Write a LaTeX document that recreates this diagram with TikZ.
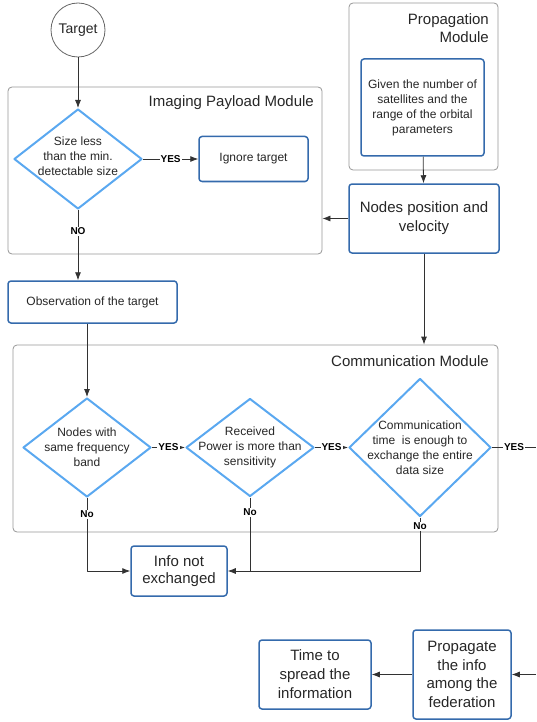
\documentclass[tikz,border=0pt]{standalone}
\usepackage{fontspec}
\setmainfont{Liberation Sans}
\usetikzlibrary{shapes.geometric,arrows.meta}
\definecolor{decblue}{RGB}{90,168,240}
\definecolor{boxblue}{RGB}{52,106,172}
\definecolor{modgray}{RGB}{150,150,150}
\definecolor{arrgray}{RGB}{50,50,50}
\tikzset{
	modbox/.style={draw=modgray,line width=0.8pt,rounded corners=4pt,inner sep=0pt},
	modtitle/.style={inner sep=0pt,align=right,font=\fontsize{15}{18}\selectfont,anchor=north east,text=black!85},
	procbox/.style={draw=boxblue,line width=1.5pt,rounded corners=3pt,align=center,inner sep=0pt,text=black!85},
	decision/.style={diamond,draw=decblue,line width=2pt,inner sep=0pt},
	dectext/.style={align=center,inner sep=0pt,text=black!85,font=\fontsize{12}{15}\selectfont},
	ans/.style={fill=white,inner sep=1pt,font=\bfseries\fontsize{10}{12}\selectfont},
	flow/.style={draw=arrgray,line width=0.8pt},
}
\begin{document}
\begin{tikzpicture}[x=1pt,y=-1pt,>={Latex[length=8pt,width=6pt]},line join=round]
	\useasboundingbox (0,0) rectangle (536,722);
	% modules
	\node[modbox,minimum width=314pt,minimum height=167pt] (imaging) at (165,170.5) {};
	\node[modbox,minimum width=149pt,minimum height=167pt] (propmod) at (423.5,86.5) {};
	\node[modbox,minimum width=485pt,minimum height=187pt] (comm) at (255.5,438.5) {};
	\node[modtitle] (imagingT) at (314,95) {Imaging Payload Module};
	\node[modtitle] (propmodT) at (489,13) {Propagation\\Module};
	\node[modtitle] (commT) at (489,355) {Communication Module};
	% blocks
	\node[circle,draw=black!60,line width=0.8pt,minimum size=54pt,inner sep=0pt,text=black!85,font=\fontsize{14}{16}\selectfont] (target) at (78,30) {Target};
	\node[decision,minimum width=128pt,minimum height=100pt,label={[dectext,yshift=3pt]center:Size less\\than the min.\\detectable size}] (sizeq) at (78,159) {};
	\node[procbox,minimum width=109pt,minimum height=45pt,font=\fontsize{12}{15}\selectfont] (ignore) at (253.5,159) {Ignore target};
	\node[procbox,minimum width=123pt,minimum height=97pt,font=\fontsize{12}{15}\selectfont] (given) at (422.5,107.5) {Given the number of\\satellites and the\\range of the orbital\\parameters};
	\node[procbox,minimum width=150pt,minimum height=69pt,font=\fontsize{15}{19}\selectfont] (nodespos) at (424,218.5) {Nodes position and\\velocity};
	\node[procbox,minimum width=169pt,minimum height=42pt,font=\fontsize{12}{15}\selectfont] (obs) at (92.5,302) {Observation of the target};
	\node[decision,minimum width=128pt,minimum height=99pt,label={[dectext]center:Nodes with\\same frequency\\band}] (qa) at (87,447.5) {};
	\node[decision,minimum width=128pt,minimum height=98pt,label={[dectext]center:Received\\Power is more than\\sensitivity}] (qb) at (250,447.5) {};
	\node[decision,minimum width=142pt,minimum height=138pt,label={[dectext]center:Communication\\time\ \ is enough to\\exchange the entire\\data size}] (qc) at (420,447.5) {};
	\node[procbox,minimum width=96pt,minimum height=50pt,font=\fontsize{15}{17.5}\selectfont] (info) at (179,571) {Info not\\exchanged};
	\node[procbox,minimum width=112pt,minimum height=69pt,font=\fontsize{15}{19}\selectfont] (spread) at (315,674.5) {Time to\\spread the\\information};
	\node[procbox,minimum width=98pt,minimum height=89pt,font=\fontsize{15}{18.5}\selectfont] (propag) at (462,674.5) {Propagate\\the info\\among the\\federation};
	\coordinate (edgeA) at (536,447.5);
	\coordinate (edgeB) at (536,674.5);
	% connectors
	\draw[flow,->] (target) -- (sizeq);
	\draw[flow,->] (sizeq.east) -- node[ans]{YES} (sizeq.east -| ignore.west);
	\draw[flow,->] (sizeq.south) -- node[ans,pos=.3]{NO} (sizeq.south |- obs.north);
	\draw[flow,->] (given) -- (nodespos);
	\draw[flow,->] (nodespos.west) -- (nodespos.west -| imaging.east);
	\draw[flow,->] (nodespos.south) -- (nodespos.south |- comm.north);
	\draw[flow,->] (qa.north |- obs.south) -- (qa.north);
	\draw[flow,->] (qa.east) -- node[ans]{YES} (qb.west);
	\draw[flow,->] (qb.east) -- node[ans]{YES} (qc.west);
	\draw[flow] (qc.east) -- node[ans]{YES} (edgeA);
	\draw[flow,->] (qa.south) -- node[ans,pos=.22]{No} (qa.south |- info.west) -- (info.west);
	\draw[flow,->] (qb.south) -- node[ans,pos=.2]{No} (qb.south |- info.east) -- (info.east);
	\draw[flow] (qc.south) -- node[ans,pos=.17]{No} (qc.south |- info.east) -- (qb.south |- info.east);
	\draw[flow,->] (edgeB) -- (propag);
	\draw[flow,->] (propag) -- (spread);
\end{tikzpicture}
\end{document}
